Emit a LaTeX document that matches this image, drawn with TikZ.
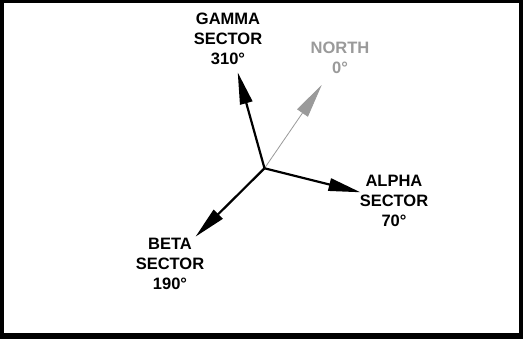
\documentclass[tikz,border=0pt]{standalone}
\usepackage{fontspec}
\setmainfont{Liberation Sans}
\usetikzlibrary{arrows.meta}
\definecolor{northgray}{HTML}{9A9A9A}
\tikzset{
  lbl/.style={align=center,inner sep=0pt,font=\bfseries\fontsize{16.5}{20}\selectfont},
  vec/.style={line width=2.2pt,-{Triangle[length=32pt,width=12.5pt]}},
  nvec/.style={line width=0.8pt,northgray,-{Triangle[length=34pt,width=13pt]}}
}
\begin{document}
\begin{tikzpicture}[x=1pt,y=-1pt]
\fill[black] (0,0) rectangle (523,339);
\fill[white] (4,3) rectangle (519,333);
\useasboundingbox (0,0) rectangle (523,339);
\coordinate (o) at (264.5,168.3);
\coordinate (gt) at (237.7,72.3);
\coordinate (nt) at (321.7,85);
\coordinate (at) at (360.5,192.3);
\coordinate (bt) at (195.5,236.7);
\draw[nvec] (o) -- (nt);
\draw[vec] (o) -- (gt);
\draw[vec] (o) -- (at);
\draw[vec] (o) -- (bt);
\node[lbl] (gamma) at (228,39.2) {GAMMA\\SECTOR\\310°};
\node[lbl,text=northgray] (north) at (340,57.5) {NORTH\\0°};
\node[lbl] (alpha) at (394,201) {ALPHA\\SECTOR\\70°};
\node[lbl] (beta) at (170,264) {BETA\\SECTOR\\190°};
\end{tikzpicture}
\end{document}
